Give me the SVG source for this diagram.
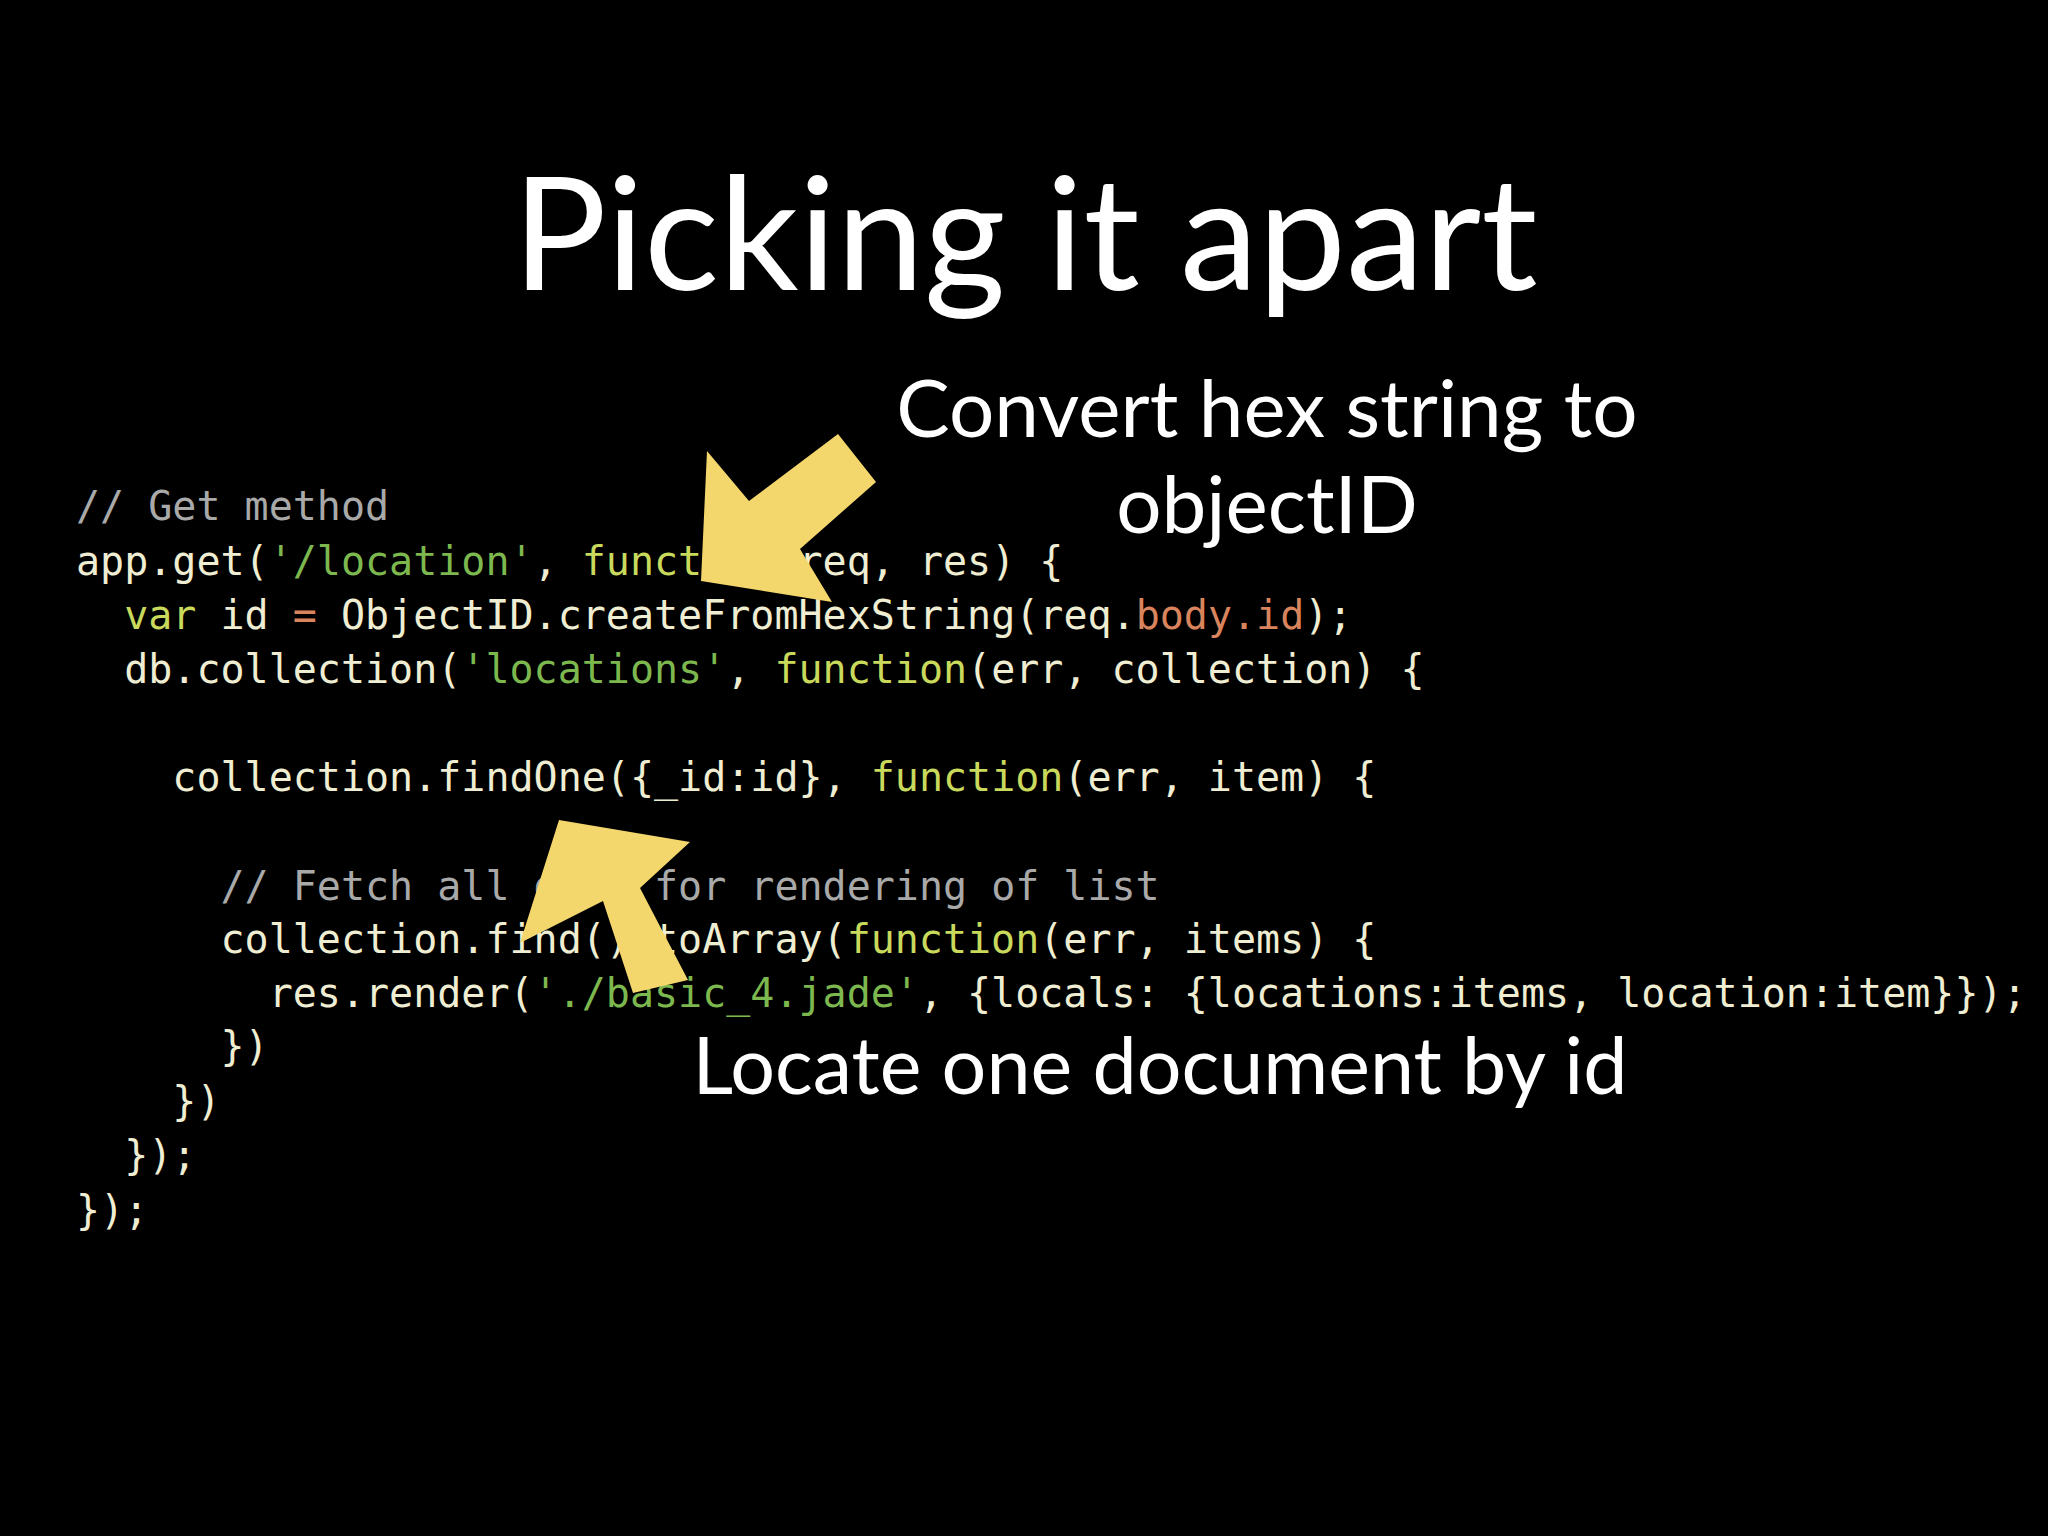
<svg xmlns="http://www.w3.org/2000/svg" width="2048" height="1536" viewBox="0 0 2048 1536">
<style>
.t{font-family:"Lato","Open Sans",sans-serif;fill:#fff}
.c{font-family:"DejaVu Sans Mono","Liberation Mono",monospace;font-size:40px;fill:#efedd2;white-space:pre}
.s{fill:#7db84f}.k{fill:#c8d95c}.m{fill:#a9a9a9}.o{fill:#d9845c}
.a{fill:#f3d66c}
</style>
<rect width="2048" height="1536" fill="#000"/>
<g id="title"><text class="t" x="1025" y="290" font-size="157" text-anchor="middle">Picking it apart</text></g>
<g id="code">
<text class="c" y="520"><tspan x="76" class="m">// Get method</tspan></text>
<text class="c" y="575" x="76">app.get(<tspan class="s">'/location'</tspan>, <tspan class="k">function</tspan>(req, res) {</text>
<text class="c" y="629" x="76">  <tspan class="k">var</tspan> id <tspan class="o">=</tspan> ObjectID.createFromHexString(req.<tspan class="o">body.id</tspan>);</text>
<text class="c" y="683" x="76">  db.collection(<tspan class="s">'locations'</tspan>, <tspan class="k">function</tspan>(err, collection) {</text>
<text class="c" y="791" x="76">    collection.findOne({_id:id}, <tspan class="k">function</tspan>(err, item) {</text>
<text class="c" y="900" x="76">      <tspan class="m">// Fetch all docs for rendering of list</tspan></text>
<text class="c" y="953" x="76">      collection.find().toArray(<tspan class="k">function</tspan>(err, items) {</text>
<text class="c" y="1007" x="76">        res.render(<tspan class="s">'./basic_4.jade'</tspan>, {locals: {locations:items, location:item}});</text>
<text class="c" y="1060" x="76">      })</text>
<text class="c" y="1115" x="76">    })</text>
<text class="c" y="1169" x="76">  });</text>
<text class="c" y="1224" x="76">});</text>
</g>
<g id="arrow1"><polygon class="a" points="701,581 707,451 749,501 838,434 876,482 800,549 832,602"/></g>
<g id="arrow2"><polygon class="a" points="559,820 690,842 640,888 688,980 633,993 603,901 520,943"/></g>
<g id="label1"><text class="t" x="1267" y="437" font-size="80" text-anchor="middle">Convert hex string to</text>
<text class="t" x="1267" y="533" font-size="80" text-anchor="middle">objectID</text></g>
<g id="label2"><text class="t" x="1160" y="1094" font-size="79" text-anchor="middle">Locate one document by id</text></g>
</svg>
